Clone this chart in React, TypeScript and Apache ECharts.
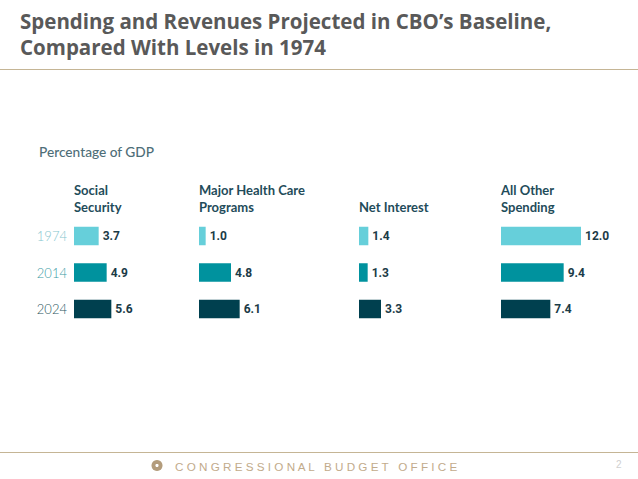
import React, { useEffect, useRef } from "react";
import * as echarts from "echarts";

const years = ["1974", "2014", "2024"];
const groups = ["Social\nSecurity", "Major Health Care\nPrograms", "Net Interest", "All Other\nSpending"];
const socialSecurity = [3.7, 4.9, 5.6];
const healthCare = [1.0, 4.8, 6.1];
const netInterest = [1.4, 1.3, 3.3];
const allOther = [12.0, 9.4, 7.4];
const seriesValues = [socialSecurity, healthCare, netInterest, allOther];
const yearColors = ["#66CFDA", "#00929E", "#00404F"];
const yearLabelColors = ["#86C6CE", "#3D9CA6", "#2C5662"];

export default function App() {
  const ref = useRef<HTMLDivElement>(null);
  useEffect(() => {
    if (!ref.current) return;
    const chart = echarts.init(ref.current, undefined, { renderer: "svg" });
    const lefts = [74, 199, 359, 501];
    const top = 217.75;
    const height = 109.5;
    const grids = lefts.map((l) => ({ left: l, top, width: 80, height }));
    const xAxes = lefts.map((_, i) => ({
      type: "value" as const,
      gridIndex: i,
      min: 0,
      max: 12,
      show: false,
    }));
    const yAxes = lefts.map((_, i) => ({
      type: "category" as const,
      gridIndex: i,
      data: years,
      inverse: true,
      axisLine: { show: false },
      axisTick: { show: false },
      splitLine: { show: false },
      axisLabel: {
        show: i === 0,
        margin: 7,
        formatter: (v: string, idx: number) => `{y${idx}|${v}}`,
        rich: {
          y0: { color: yearLabelColors[0], fontSize: 13, fontFamily: "Lato", fontWeight: 300 },
          y1: { color: yearLabelColors[1], fontSize: 13, fontFamily: "Lato", fontWeight: 300 },
          y2: { color: yearLabelColors[2], fontSize: 13, fontFamily: "Lato", fontWeight: 300 },
        },
      },
    }));
    const series = seriesValues.map((vals, i) => ({
      type: "bar" as const,
      xAxisIndex: i,
      yAxisIndex: i,
      barWidth: 18.5,
      data: vals.map((v, k) => ({ value: v, itemStyle: { color: yearColors[k] } })),
      label: {
        show: true,
        position: "right" as const,
        distance: 4,
        formatter: (p: any) => Number(p.value).toFixed(1),
        color: "#1B3B47",
        fontSize: 12,
        fontWeight: "bold" as const,
        fontFamily: "'Liberation Sans Narrow', 'Roboto', sans-serif",
      },
    }));
    const headers = groups.map((g, i) => ({
      type: "text" as const,
      left: lefts[i],
      top: g.includes("\n") ? 181 : 198,
      style: {
        text: g,
        fill: "#1F4C5A",
        font: "bold 13px Lato, sans-serif",
        lineHeight: 17,
      },
    }));
    chart.setOption({
      animation: false,
      backgroundColor: "#ffffff",
      grid: grids,
      xAxis: xAxes,
      yAxis: yAxes,
      series,
      graphic: [
        {
          type: "text",
          left: 20,
          top: 8,
          style: {
            text: "Spending and Revenues Projected in CBO’s Baseline,\nCompared With Levels in 1974",
            fill: "#595959",
            font: "bold 20.5px 'Open Sans', sans-serif",
            lineHeight: 26,
          },
        },
        {
          type: "line",
          shape: { x1: 0, y1: 69.5, x2: 638, y2: 69.5 },
          style: { stroke: "#C5B595", lineWidth: 1 },
        },
        {
          type: "text",
          left: 39,
          top: 144,
          style: {
            text: "Percentage of GDP",
            fill: "#4E6E78",
            font: "500 13.7px Lato, sans-serif",
          },
        },
        ...headers,
        {
          type: "line",
          shape: { x1: 0, y1: 452.5, x2: 638, y2: 452.5 },
          style: { stroke: "#C5B595", lineWidth: 1 },
        },
        {
          type: "circle",
          shape: { cx: 157, cy: 465.5, r: 5.5 },
          style: { fill: "#B39C7C" },
        },
        {
          type: "circle",
          shape: { cx: 157, cy: 465.5, r: 1.6 },
          style: { fill: "#ffffff" },
        },
        {
          type: "text",
          left: 175,
          top: 460,
          style: {
            text: "C O N G R E S S I O N A L   B U D G E T   O F F I C E",
            fill: "#C2AB8B",
            font: "11.7px 'Liberation Sans', Arial, sans-serif",
          },
        },
        {
          type: "text",
          left: 616,
          top: 459,
          style: {
            text: "2",
            fill: "#D0D0D0",
            font: "10px 'Liberation Sans', Arial, sans-serif",
          },
        },
      ],
    });
    return () => chart.dispose();
  }, []);
  return (
    <div
      ref={ref}
      style={{ position: "fixed", left: 0, top: 0, width: 638, height: 479, background: "#fff" }}
    />
  );
}
